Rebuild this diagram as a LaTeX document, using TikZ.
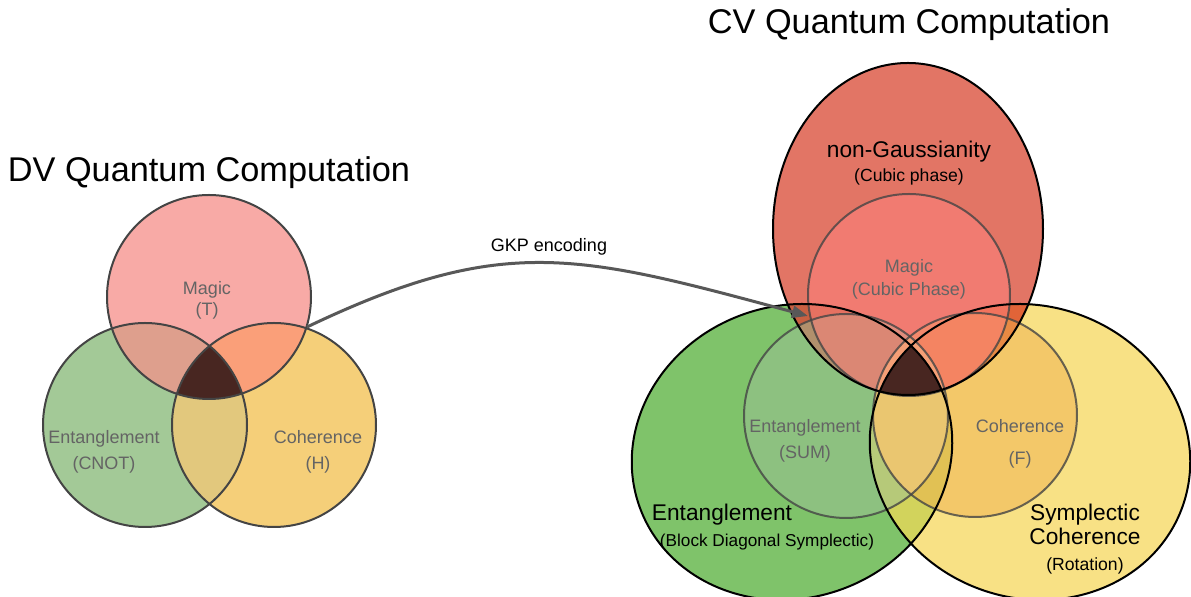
\documentclass[tikz,border=0pt]{standalone}
\usepackage{fontspec}
\setmainfont{Liberation Sans}
\usetikzlibrary{arrows.meta}

\definecolor{dvpink}{RGB}{248,170,166}
\definecolor{dvgreen}{RGB}{163,201,151}
\definecolor{dvyellow}{RGB}{245,207,121}
\definecolor{dvme}{RGB}{222,159,141}
\definecolor{dvmc}{RGB}{250,159,121}
\definecolor{dvec}{RGB}{226,200,125}
\definecolor{darkcore}{RGB}{72,38,33}
\definecolor{ringgray}{RGB}{68,68,68}
\definecolor{txtgray}{RGB}{100,100,100}
\definecolor{cvred}{RGB}{226,117,101}
\definecolor{cvgreen}{RGB}{127,195,106}
\definecolor{cvyellow}{RGB}{248,225,133}
\definecolor{cvgy}{RGB}{210,211,92}
\definecolor{cvrg}{RGB}{200,96,66}
\definecolor{cvry}{RGB}{225,100,56}
\definecolor{sumtint}{RGB}{155,193,150}
\definecolor{foutint}{RGB}{240,176,78}
\definecolor{magtint}{RGB}{255,128,124}
\definecolor{cvlens}{RGB}{234,198,112}
\definecolor{arrowgray}{RGB}{88,88,88}

% shapes, in pixels of the reference
\newcommand\dvMagic{(209,297) circle [radius=102]}
\newcommand\dvEnt{(145,425) circle [radius=102]}
\newcommand\dvCoh{(274,425) circle [radius=102]}
\newcommand\cvNonG{(908,229) ellipse [x radius=135, y radius=166]}
\newcommand\cvEnt{(792,452) ellipse [x radius=162, y radius=146, rotate=20]}
\newcommand\cvSymp{(1030,452) ellipse [x radius=162, y radius=146, rotate=-20]}
\newcommand\cvMagic{(909,295) circle [radius=101]}
\newcommand\cvSum{(846,416) circle [radius=102]}
\newcommand\cvFou{(975,415) circle [radius=102]}

\tikzset{
  dvring/.style={draw=ringgray, line width=1pt},
  outerring/.style={draw=black, line width=1pt},
  innerring/.style={draw=ringgray, draw opacity=0.8, line width=1pt},
  lbl/.style={anchor=base, text=txtgray, font=\fontsize{9}{11}\selectfont},
  headtxt/.style={anchor=base, font=\fontsize{11.35}{13}\selectfont},
  subtxt/.style={anchor=base, font=\fontsize{8.8}{11}\selectfont},
  bigtitle/.style={anchor=base, font=\fontsize{17.15}{20}\selectfont},
  gkp/.style={draw=arrowgray, line width=1.5pt, -{Triangle[length=8pt,width=6pt]}}
}

\begin{document}
\begin{tikzpicture}[x=0.5pt, y=-0.5pt]
  \useasboundingbox (0,0) rectangle (1191,597);

  % DV Venn diagram
  \fill[dvgreen] \dvEnt;
  \fill[dvyellow] \dvCoh;
  \fill[dvpink] \dvMagic;
  \begin{scope} \clip \dvMagic; \fill[dvme] \dvEnt; \end{scope}
  \begin{scope} \clip \dvMagic; \fill[dvmc] \dvCoh; \end{scope}
  \begin{scope} \clip \dvEnt; \fill[dvec] \dvCoh; \end{scope}
  \begin{scope} \clip \dvMagic; \clip \dvEnt; \fill[darkcore] \dvCoh; \end{scope}
  \draw[dvring] \dvMagic;
  \draw[dvring] \dvEnt;
  \draw[dvring] \dvCoh;

  % CV Venn diagram
  \fill[cvgreen] \cvEnt;
  \fill[cvyellow] \cvSymp;
  \begin{scope} \clip \cvEnt; \fill[cvgy] \cvSymp; \end{scope}
  \fill[cvred] \cvNonG;
  \begin{scope} \clip \cvNonG; \fill[cvrg] \cvEnt; \end{scope}
  \begin{scope} \clip \cvNonG; \fill[cvry] \cvSymp; \end{scope}
  \fill[sumtint, fill opacity=0.5] \cvSum;
  \fill[foutint, fill opacity=0.5] \cvFou;
  \begin{scope} \clip \cvSum; \fill[cvlens] \cvFou; \end{scope}
  \fill[magtint, fill opacity=0.55] \cvMagic;
  \begin{scope} \clip \cvNonG; \clip \cvEnt; \fill[darkcore] \cvSymp; \end{scope}
  \draw[innerring] \cvSum;
  \draw[innerring] \cvFou;
  \draw[innerring] \cvMagic;
  \draw[outerring] \cvEnt;
  \draw[outerring] \cvSymp;
  \draw[outerring] \cvNonG;

  % titles
  \node[bigtitle] (dvtitle) at (209,182) {DV Quantum Computation};
  \node[bigtitle] (cvtitle) at (909,34) {CV Quantum Computation};

  % DV labels
  \node[lbl] (dvmag) at (207,295) {Magic};
  \node[lbl] (dvmagop) at (207,316) {(T)};
  \node[lbl] (dvent) at (104,444) {Entanglement};
  \node[lbl] (dventop) at (104,470) {(CNOT)};
  \node[lbl] (dvcoh) at (318,444) {Coherence};
  \node[lbl] (dvcohop) at (318,470) {(H)};

  % CV labels
  \node[headtxt] (nong) at (909,158) {non-Gaussianity};
  \node[subtxt] (nongop) at (909,182) {(Cubic phase)};
  \node[lbl] (cvmag) at (909,273) {Magic};
  \node[lbl] (cvmagop) at (909,296) {(Cubic Phase)};
  \node[lbl] (cvsum) at (805,433) {Entanglement};
  \node[lbl] (cvsumop) at (805,459) {(SUM)};
  \node[lbl] (cvfou) at (1020,433) {Coherence};
  \node[lbl] (cvfouop) at (1020,465) {(F)};
  \node[headtxt] (cvent) at (722,521) {Entanglement};
  \node[subtxt, font=\fontsize{8.6}{10}\selectfont] (cventop) at (767,547) {(Block Diagonal Symplectic)};
  \node[headtxt] (cvsymp) at (1085,521) {Symplectic};
  \node[headtxt] (cvsympb) at (1085,545) {Coherence};
  \node[subtxt] (cvsympop) at (1085,571) {(Rotation)};

  % encoding arrow
  \coordinate (gkpfrom) at (307,327);
  \coordinate (gkpto) at (808,316);
  \draw[gkp] (gkpfrom) .. controls (504,233) and (578,254) .. (gkpto);
  \node[anchor=base, font=\fontsize{9}{11}\selectfont] (gkplbl) at (549,252) {GKP encoding};
\end{tikzpicture}
\end{document}
